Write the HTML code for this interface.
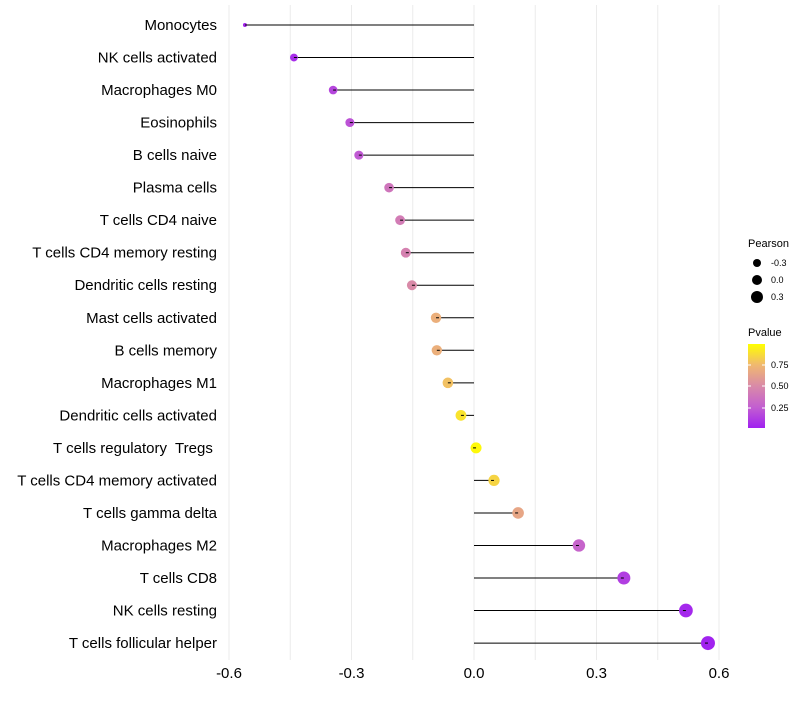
<!DOCTYPE html>
<html><head><meta charset="utf-8"><style>
body{margin:0;background:#fff;font-family:"Liberation Sans",sans-serif;}
text{white-space:pre;}
</style></head><body>
<svg id="chart" width="800" height="700" xmlns="http://www.w3.org/2000/svg" font-family="Liberation Sans, sans-serif"></svg>
<script>
const categories=["Monocytes","NK cells activated","Macrophages M0","Eosinophils","B cells naive","Plasma cells","T cells CD4 naive","T cells CD4 memory resting","Dendritic cells resting","Mast cells activated","B cells memory","Macrophages M1","Dendritic cells activated","T cells regulatory  Tregs ","T cells CD4 memory activated","T cells gamma delta","Macrophages M2","T cells CD8","NK cells resting","T cells follicular helper"];
const pearson=[-0.561,-0.441,-0.345,-0.304,-0.282,-0.208,-0.181,-0.167,-0.152,-0.093,-0.091,-0.064,-0.032,0.005,0.049,0.108,0.257,0.367,0.519,0.573];
const pvalue=[0.02,0.05,0.15,0.2,0.23,0.38,0.42,0.45,0.5,0.7,0.7,0.78,0.9,0.98,0.85,0.65,0.28,0.12,0.03,0.01];
const xticks=[-0.6,-0.3,0.0,0.3,0.6];
const xtickLabels=["-0.6","-0.3","0.0","0.3","0.6"];
const NS="http://www.w3.org/2000/svg";
const svg=document.getElementById('chart');
const xs=v=>474+v*408.33;
const ys=i=>25+i*32.53;
function mk(t,a,p){const e=document.createElementNS(NS,t);for(const k in a)e.setAttribute(k,a[k]);(p||svg).appendChild(e);return e;}
const stops=[[0,[160,32,240]],[0.25,[195,95,208]],[0.5,[217,138,168]],[0.75,[240,184,112]],[1,[255,255,0]]];
function col(p){for(let i=0;i<stops.length-1;i++){const[a,ca]=stops[i],[b,cb]=stops[i+1];if(p<=b){const t=(p-a)/(b-a);return'rgb('+ca.map((c,j)=>Math.round(c+(cb[j]-c)*t)).join(',')+')';}}return'rgb(255,255,0)';}
const rad=v=>v<-0.5?2:Math.sqrt(Math.max(4,30+33*v));
for(let v=-0.6;v<=0.61;v+=0.15){const g=mk('line',{x1:xs(v),x2:xs(v),y1:5,y2:660,stroke:'#ebebeb','stroke-width':1});

}
xticks.forEach((v,i)=>{const t=mk('text',{x:xs(v),y:678,'text-anchor':'middle','font-size':15,fill:'#000'});t.textContent=xtickLabels[i];

});
categories.forEach((c,i)=>{const y=ys(i);
const l=mk('text',{x:217,y:y+5,'text-anchor':'end','font-size':15,fill:'#000'});l.textContent=c;


const s=mk('line',{x1:xs(0),x2:xs(pearson[i]),y1:y,y2:y,stroke:'#000','stroke-width':1});


const d=mk('circle',{cx:xs(pearson[i]),cy:y,r:rad(pearson[i]),fill:col(pvalue[i])});


const k=mk('line',{x1:xs(pearson[i]),x2:xs(pearson[i])+(pearson[i]<0?3:-3),y1:y,y2:y,stroke:'#000','stroke-width':1});

});
const lg=mk('g',{});


let t=mk('text',{x:748,y:247,'font-size':11},lg);t.textContent='Pearson';
[-0.3,0,0.3].forEach((v,i)=>{mk('circle',{cx:757,cy:263+i*17,r:[4,5,6][i],fill:'#000'},lg);const tt=mk('text',{x:771,y:266+i*17,'font-size':9},lg);tt.textContent=['-0.3','0.0','0.3'][i];});
const pg=mk('g',{});


t=mk('text',{x:748,y:336,'font-size':11},pg);t.textContent='Pvalue';
const defs=mk('defs',{},pg);const gr=mk('linearGradient',{id:'pg',x1:0,y1:1,x2:0,y2:0},defs);
stops.forEach(s=>mk('stop',{offset:s[0],'stop-color':col(s[0])},gr));
mk('rect',{x:748,y:344,width:17,height:84,fill:'url(#pg)'},pg);
[[0.75,365],[0.5,386],[0.25,408]].forEach(([v,y])=>{mk('line',{x1:748,x2:751,y1:y,y2:y,stroke:'#fff'},pg);mk('line',{x1:762,x2:765,y1:y,y2:y,stroke:'#fff'},pg);const tt=mk('text',{x:771,y:y+3,'font-size':9},pg);tt.textContent=v.toFixed(2);});
</script>
</body></html>
